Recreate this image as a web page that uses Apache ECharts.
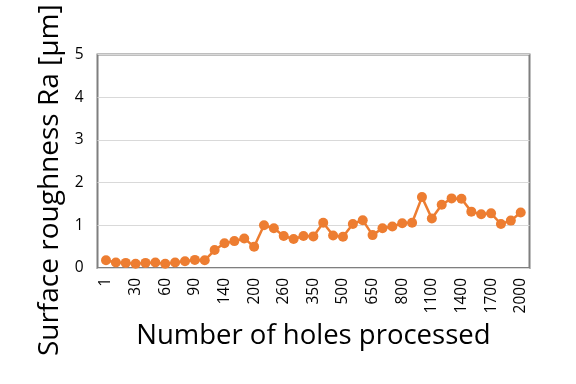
<!DOCTYPE html>
<html><head><meta charset="utf-8">
<script src="https://cdn.jsdelivr.net/npm/echarts@6/dist/echarts.min.js"></script>
<style>html,body{margin:0;padding:0;background:#fff}#c{width:576px;height:384px}</style>
</head><body><div id="c"></div>
<script>
const categories = ['1','10','20','30','40','50','60','70','80','90','100','120','140','160','180','200','220','240','260','290','320','350','400','450','500','550','600','650','700','750','800','900','1000','1100','1200','1300','1400','1500','1600','1700','1800','1900','2000'];
const roughness = [0.18,0.13,0.12,0.10,0.12,0.13,0.10,0.13,0.16,0.19,0.18,0.42,0.58,0.63,0.69,0.50,1.00,0.93,0.75,0.68,0.75,0.74,1.06,0.76,0.73,1.03,1.12,0.77,0.93,0.97,1.05,1.06,1.66,1.16,1.48,1.63,1.62,1.32,1.26,1.28,1.03,1.11,1.30];
const yTicks = [0,1,2,3,4,5];
const font = 'Open Sans';
const chart = echarts.init(document.getElementById('c'), null, {renderer:'canvas'});
chart.setOption({
  animation:false,
  textStyle:{fontFamily:font},
  grid:[
    {left:97.5, top:54.5, width:432, height:213.5, show:true, borderColor:'#7f7f7f', borderWidth:2, backgroundColor:'transparent', containLabel:false, outerBoundsMode:'none'},
    {left:106, top:54.5, width:414.7, height:213.5, show:false, containLabel:false, outerBoundsMode:'none'}
  ],
  xAxis:[
    {gridIndex:0, type:'value', min:0, max:1, show:false},
    {gridIndex:1, type:'category', data:categories, boundaryGap:false,
     axisLine:{show:false}, axisTick:{show:false},
     axisLabel:{interval:2, rotate:90, fontSize:15.5, color:'#000', margin:10, fontFamily:font},
     name:'Number of holes processed', nameLocation:'middle', nameGap:54,
     nameTextStyle:{fontSize:27.5, color:'#000', fontFamily:font}}
  ],
  yAxis:[
    {gridIndex:0, type:'value', min:yTicks[0], max:yTicks[yTicks.length-1], interval:1,
     axisLine:{show:false}, axisTick:{show:false},
     axisLabel:{fontSize:15.5, color:'#000', margin:14, fontFamily:font},
     splitLine:{show:true, lineStyle:{color:'#d9d9d9', width:1}},
     name:'Surface roughness Ra [µm]', nameLocation:'middle', nameGap:33,
     nameTextStyle:{fontSize:28, color:'#000', fontFamily:font, padding:[0,38,0,0]}},
    {gridIndex:1, type:'value', min:0, max:5, show:false}
  ],
  series:[{
    type:'line', xAxisIndex:1, yAxisIndex:1, data:roughness,
    symbol:'circle', symbolSize:10, showAllSymbol:true,
    lineStyle:{color:'#ED7D31', width:2.5},
    itemStyle:{color:'#ED7D31'}
  }]
});
</script></body></html>
